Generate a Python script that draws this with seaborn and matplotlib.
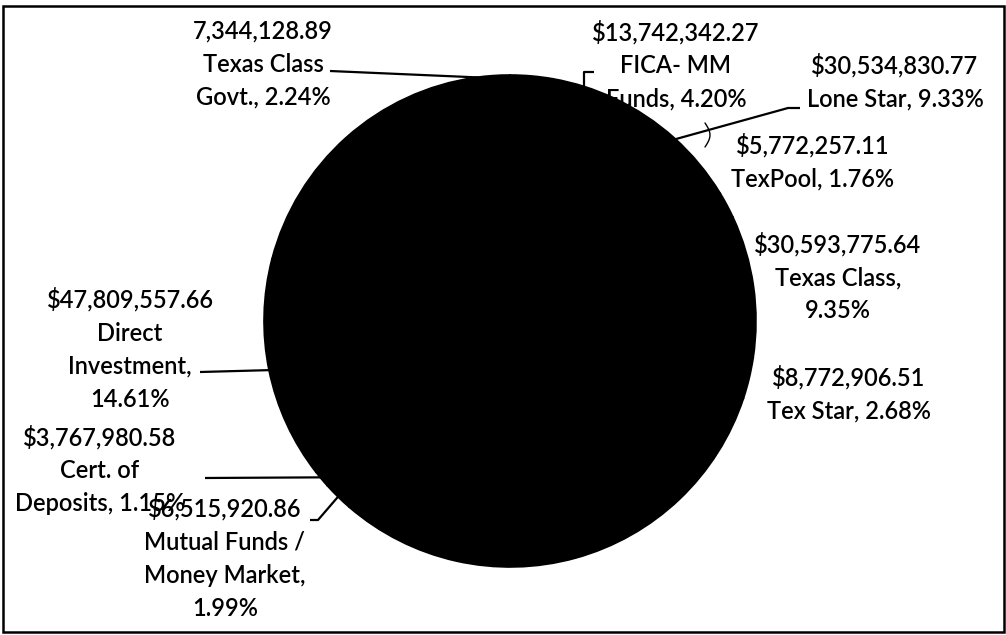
import matplotlib
matplotlib.use("Agg")
import matplotlib.pyplot as plt
import seaborn as sns
import numpy as np

sns.set_theme(style="white")
plt.rcParams['font.family'] = ['Lato', 'DejaVu Sans']

# ---- data (clockwise from 12 o'clock); unlabeled slices are estimated ----
categories = ["(unlabeled A)", "FICA- MM Funds", "Lone Star", "TexPool", "Texas Class",
              "Tex Star", "(unlabeled B)", "Mutual Funds / Money Market",
              "Cert. of Deposits", "Direct Investment", "(unlabeled C)", "Texas Class Govt."]
values = [9.2e6, 13742342.27, 30534830.77, 5772257.11, 30593775.64,
          8772906.51, 102.5e6, 6515920.86, 3767980.58, 47809557.66, 61.3e6, 7344128.89]
label_texts = ["",
               "$13,742,342.27\nFICA- MM\nFunds, 4.20%",
               "$30,534,830.77\nLone Star, 9.33%",
               "$5,772,257.11\nTexPool, 1.76%",
               "$30,593,775.64\nTexas Class,\n9.35%",
               "$8,772,906.51\nTex Star, 2.68%",
               "",
               "$6,515,920.86\nMutual Funds /\nMoney Market,\n1.99%",
               "$3,767,980.58\nCert. of\nDeposits, 1.15%",
               "$47,809,557.66\nDirect\nInvestment,\n14.61%",
               "",
               "7,344,128.89\nTexas Class\nGovt., 2.24%"]

W, H = 1006, 635
fig = plt.figure(figsize=(W / 100, H / 100), dpi=100)
ax = fig.add_axes([0, 0, 1, 1])

def P(x, y):
    return x, H - y

cx, cy = P(510, 321)
R = 246
wedges, _ = ax.pie(values, colors=["black"] * len(values), startangle=90,
                   counterclock=False, center=(cx, cy), radius=R,
                   wedgeprops=dict(linewidth=1.2, edgecolor='black'))
ax.set_xlim(0, W)
ax.set_ylim(0, H)
ax.set_aspect('auto')
ax.axis('off')

# label block centres (pixel layout)
label_pos = {1: (676, 65), 2: (895, 82), 3: (813, 162), 4: (838, 277), 5: (849, 394),
             7: (225, 558), 8: (100, 470), 9: (130, 349), 11: (263, 64)}
# leader-line elbows/ends (pixel layout), starting from wedge edge
leaders = {1: "fica", 2: [(788, 108), (800, 108)], 9: [(200, 372)],
           8: [(205, 478)], 7: [(318, 520), (310, 520)], 11: [(330, 71)]}

for i, txt in enumerate(label_texts):
    if not txt:
        continue
    x, y = label_pos[i]
    ax.text(*P(x, y), txt, ha='center', va='center', multialignment='center',
            fontsize=17, color='black', linespacing=1.53, fontweight='semibold')

for i, pts in leaders.items():
    w = wedges[i]
    mid = np.deg2rad((w.theta1 + w.theta2) / 2)
    ex, ey = cx + R * 0.99 * np.cos(mid), cy + R * 0.99 * np.sin(mid)
    if pts == "fica":
        xs = [ex, ex, ex + 10]
        ys = [ey, H - 72, H - 72]
    else:
        xs = [ex] + [p[0] for p in pts]
        ys = [ey] + [H - p[1] for p in pts]
    ax.plot(xs, ys, color='black', lw=1.6, solid_capstyle='butt')

# tiny curved leader near TexPool label
t = np.linspace(0, 1, 12)
ax.plot(705 + 5 * np.sin(np.pi * t), H - (123 + 24 * t), color='black', lw=1.0)

# outer frame
ax.add_patch(plt.Rectangle((3, H - 632), 1001, 626, fill=False, lw=1.8,
                           edgecolor='black'))

fig.savefig("out.png", dpi=100, facecolor='white')
